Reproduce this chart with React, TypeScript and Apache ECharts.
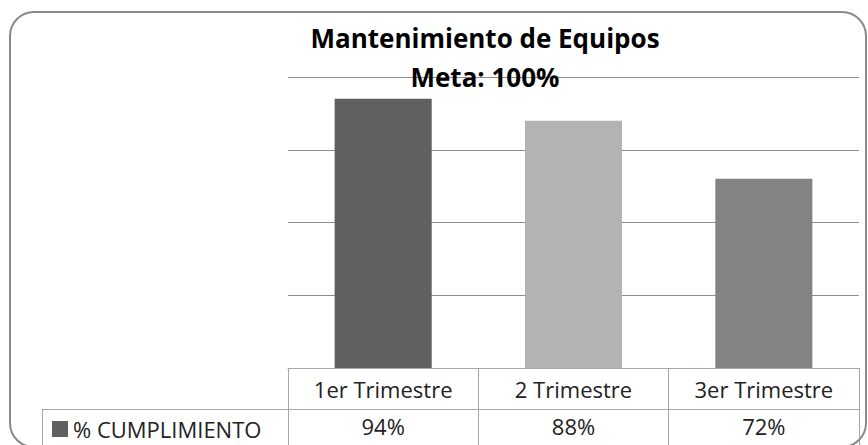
import React, { useEffect, useRef } from "react";
import * as echarts from "echarts";

const categories = ["1er Trimestre", "2 Trimestre", "3er Trimestre"];
const values = [94, 88, 72];
const valueLabels = ["94%", "88%", "72%"];
const barColors = ["#606060", "#b3b3b3", "#838383"];
const seriesName = "% CUMPLIMIENTO";
const titleLines = ["Mantenimiento de Equipos", "Meta: 100%"];

export default function App() {
  const ref = useRef<HTMLDivElement>(null);
  useEffect(() => {
    const chart = echarts.init(ref.current!, null, { renderer: "svg" });
    const font = "'Open Sans', sans-serif";
    const border = "#a6a6a6";
    chart.setOption({
      animation: false,
      backgroundColor: "#ffffff",
      textStyle: { fontFamily: font },
      grid: { left: 288, right: 9, top: 77, bottom: 77, containLabel: false },
      legend: {
        left: 52,
        top: 415,
        padding: 0,
        itemWidth: 16,
        itemHeight: 16,
        icon: "rect",
        textStyle: { fontSize: 22, lineHeight: 28, color: "#222", fontFamily: font },
        data: [seriesName],
      },
      xAxis: {
        type: "category",
        data: categories,
        axisLine: { show: true, lineStyle: { color: border, width: 1 } },
        axisTick: { show: true, interval: 0, length: 82, lineStyle: { color: border } },
        axisLabel: {
          interval: 0,
          margin: 0,
          formatter: (v: string, i: number) => `{a|${v}}\n{b|${valueLabels[i]}}`,
          rich: {
            a: { fontSize: 22, lineHeight: 41, color: "#222", fontFamily: font },
            b: { fontSize: 22, lineHeight: 34, color: "#222", fontFamily: font },
          },
        },
      },
      yAxis: {
        type: "value",
        min: 20,
        max: 100,
        interval: 20,
        axisLabel: { show: false },
        axisLine: { show: false },
        axisTick: { show: false },
        splitLine: { lineStyle: { color: "#8c8c8c", width: 1 } },
      },
      series: [
        {
          name: seriesName,
          type: "bar",
          barWidth: "51%",
          itemStyle: { color: barColors[0] },
          data: values.map((v, i) => ({ value: v, itemStyle: { color: barColors[i] } })),
        },
      ],
      graphic: [
        {
          type: "rect",
          shape: { x: 10, y: 12, width: 856, height: 435, r: 24 },
          style: { fill: "none", stroke: "#8a8a8a", lineWidth: 2 },
          silent: true,
          z: 100,
        },
        {
          type: "line",
          shape: { x1: 42, y1: 409.5, x2: 859, y2: 409.5 },
          style: { stroke: border, lineWidth: 1 },
          silent: true,
        },
        {
          type: "line",
          shape: { x1: 42.5, y1: 409, x2: 42.5, y2: 450 },
          style: { stroke: border, lineWidth: 1 },
          silent: true,
        },
        {
          type: "text",
          x: 485,
          y: 38,
          z: 50,
          style: {
            text: titleLines[0],
            align: "center",
            verticalAlign: "middle",
            font: `bold 26px ${font}`,
            fill: "#000",
          },
        },
        {
          type: "text",
          x: 485,
          y: 77,
          z: 50,
          style: {
            text: titleLines[1],
            align: "center",
            verticalAlign: "middle",
            font: `bold 26px ${font}`,
            fill: "#000",
          },
        },
      ],
    });
    return () => chart.dispose();
  }, []);
  return (
    <div
      ref={ref}
      style={{ position: "fixed", left: 0, top: 0, width: 868, height: 445, background: "#fff" }}
    />
  );
}
